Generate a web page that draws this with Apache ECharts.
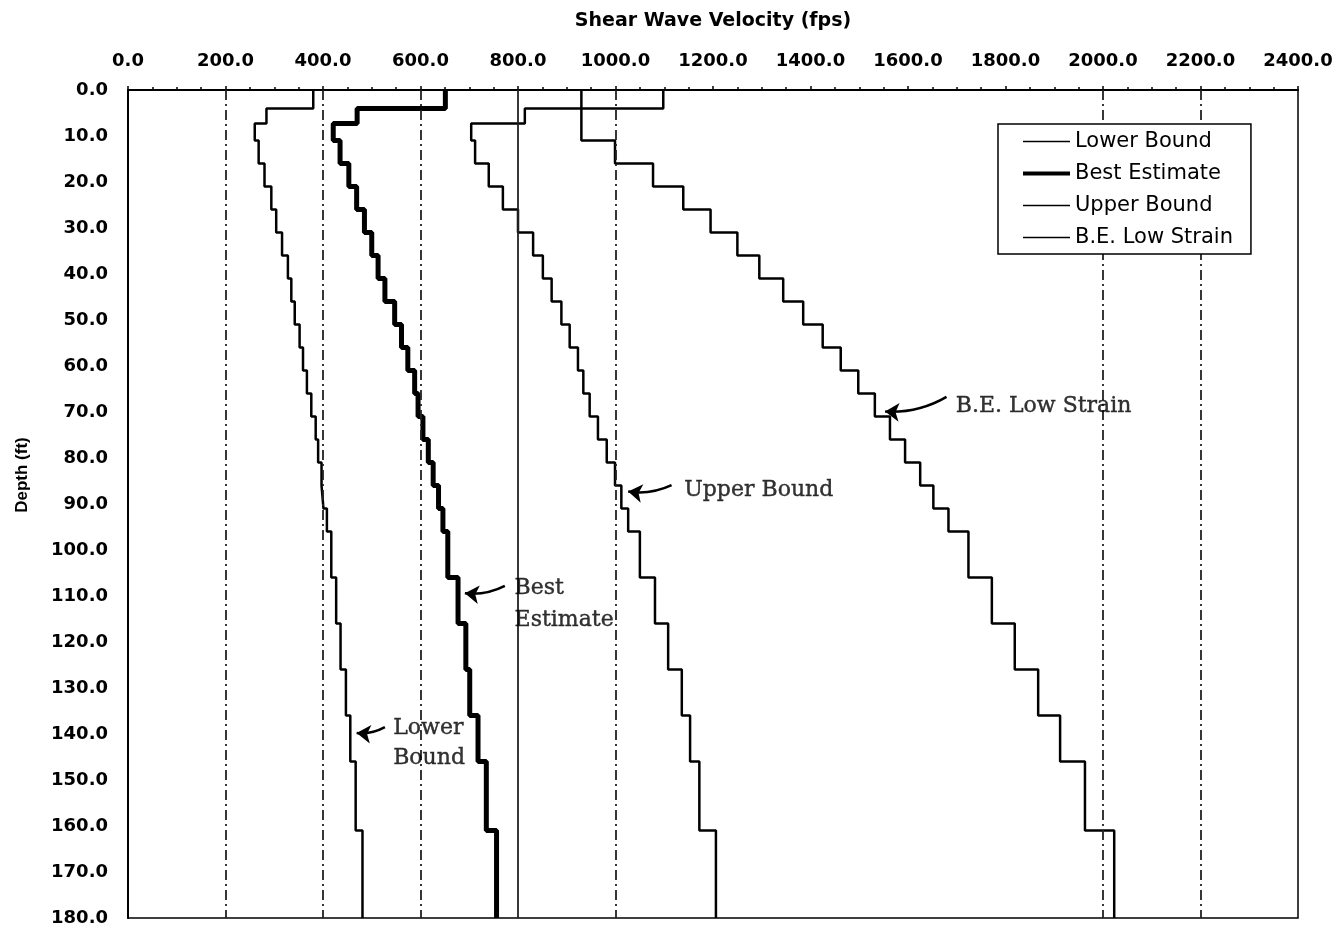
<!DOCTYPE html>
<html>
<head>
<meta charset="utf-8">
<script src="https://cdn.jsdelivr.net/npm/echarts@6/dist/echarts.min.js"></script>
<style>
html,body{margin:0;padding:0;background:#fff;}
#chart{width:1341px;height:929px;}
</style>
</head>
<body>
<div id="chart"></div>
<script>
// Layer boundaries (ft)
const depthBounds = [0,4,7.3,11,16,21,26,31,36,41,46,51,56,61,66,71,76,81,86,91,96,106,116,126,136,146,161,180];
// Shear wave velocity per layer (fps)
const lowerBound   = [380,284,260,268,280,294,304,316,328,335,342,352,359,367,376,385,390,397,401,408,417,427,436,447,456,467,481];
const bestEstimate = [651,470,421,435,453,469,485,500,513,527,547,561,574,588,595,605,616,626,637,646,656,677,693,701,718,735,756];
const upperBound   = [1098,814,704,712,740,769,800,831,851,869,889,906,923,934,947,964,982,999,1012,1026,1050,1081,1108,1136,1153,1172,1206];
const beLowStrain  = [930,930,930,999,1077,1139,1195,1250,1295,1344,1385,1425,1462,1498,1532,1563,1594,1625,1652,1683,1724,1772,1819,1867,1912,1963,2023];
const seriesNames  = ['Lower Bound','Best Estimate','Upper Bound','B.E. Low Strain'];
// Axis ticks
const xMin = 0, xMax = 2400, xStep = 200;
const yMin = 0, yMax = 180, yStep = 10;
// Reference lines
const gridDashDot = [200,400,600,1000,2000,2200];
const gridSolid = [800];
// Annotations: [velocity, depth, text]
const annotTexts = [[1698,68.8,'B.E. Low Strain'],[1141,87,'Upper Bound'],[793,111.8,'Best\nEstimate'],[544,142,'Lower\nBound']];
// Arrows: [tailV, tailD, tipV, tipD]
const arrows = [[1679,66.7,1553,69.9],[1115,85.9,1026,87.3],[773,107.8,691,109.4],[527,138.5,469,139.8]];

function profile(vals){
  const pts = [];
  vals.forEach((v,i)=>{ pts.push([v, depthBounds[i]]); pts.push([v, depthBounds[i+1]]); });
  return pts;
}

const chart = echarts.init(document.getElementById('chart'), null, {renderer:'canvas'});
const lineBase = {type:'line', symbol:'none', showSymbol:false, animation:false, z:3};
const refLines = gridDashDot.map(v=>({xAxis:v})).concat(gridSolid.map(v=>({xAxis:v, lineStyle:{type:'solid'}})));
const widths = [2.5, 5, 2.5, 2.5];

chart.setOption({
  backgroundColor:'#fff',
  animation:false,
  grid:{left:128, right:43, top:90, bottom:11, show:true, borderColor:'#000', borderWidth:1.5},
  xAxis:{
    type:'value', position:'top', min:xMin, max:xMax, interval:xStep,
    name:'Shear Wave Velocity (fps)', nameLocation:'middle', nameGap:59,
    nameTextStyle:{fontFamily:'DejaVu Sans', fontWeight:'bold', fontSize:19, color:'#000'},
    axisLine:{lineStyle:{color:'#000', width:2}},
    axisTick:{show:true, inside:false, length:4, lineStyle:{color:'#000', width:1.5}},
    minorTick:{show:true, splitNumber:4, length:3, lineStyle:{color:'#000', width:1.5}},
    axisLabel:{formatter:v=>v.toFixed(1), margin:20, fontFamily:'DejaVu Sans', fontWeight:'bold', fontSize:18, color:'#000'},
    splitLine:{show:false}
  },
  yAxis:{
    type:'value', inverse:true, min:yMin, max:yMax, interval:yStep,
    axisLine:{lineStyle:{color:'#000', width:2}},
    axisTick:{show:false},
    axisLabel:{formatter:v=>v.toFixed(1), margin:20, fontFamily:'DejaVu Sans', fontWeight:'bold', fontSize:18, color:'#000'},
    splitLine:{show:false}
  },
  legend:{
    data:seriesNames.map((n,i)=>({name:n, lineStyle:{width:widths[i]===5?4:1.6, color:'#000'}})),
    orient:'vertical', left:998, top:124, z:20,
    itemWidth:47, itemHeight:14, itemGap:11,
    padding:[7,18,6,23],
    itemStyle:{opacity:0},
    borderColor:'#000', borderWidth:1.5, backgroundColor:'#fff',
    textStyle:{fontFamily:'DejaVu Sans', fontSize:21, color:'#000'}
  },
  graphic:[{
    type:'text', x:22, y:475, rotation:Math.PI/2,
    style:{text:'Depth (ft)', font:'bold 17px "Liberation Sans"', fill:'#000', textAlign:'center', textVerticalAlign:'middle'}
  }],
  series:[
    Object.assign({}, lineBase, {name:seriesNames[0], data:profile(lowerBound), lineStyle:{color:'#000', width:widths[0]}, itemStyle:{color:'#000'},
      markLine:{silent:true, symbol:'none', label:{show:false}, animation:false,
        lineStyle:{color:'#222', width:1.8, type:[10,4,2,4]}, data:refLines}}),
    Object.assign({}, lineBase, {name:seriesNames[1], data:profile(bestEstimate), lineStyle:{color:'#000', width:widths[1]}, itemStyle:{color:'#000'}}),
    Object.assign({}, lineBase, {name:seriesNames[2], data:profile(upperBound), lineStyle:{color:'#000', width:widths[2]}, itemStyle:{color:'#000'}}),
    Object.assign({}, lineBase, {name:seriesNames[3], data:profile(beLowStrain), lineStyle:{color:'#000', width:widths[3]}, itemStyle:{color:'#000'}}),
    {
      type:'scatter', name:'annotations', symbolSize:0, animation:false, silent:true, z:5,
      data:annotTexts.map(a=>({value:a, label:{lineHeight: a[2].indexOf('Best')===0 ? 32 : 30}})),
      label:{show:true, position:'right', distance:0, formatter:p=>p.value[2],
        fontFamily:'DejaVu Serif', fontSize:22, color:'#000', align:'left',
        textBorderColor:'#000', textBorderWidth:0.4}
    },
    {
      type:'lines', coordinateSystem:'cartesian2d', name:'arrows', silent:true, animation:false, z:5,
      symbol:['none','arrow'], symbolSize:[0,14],
      lineStyle:{color:'#000', width:2.5, opacity:1, curveness:0.15},
      data:arrows.map(a=>({coords:[[a[0],a[1]],[a[2],a[3]]]}))
    }
  ]
});
</script>
</body>
</html>
